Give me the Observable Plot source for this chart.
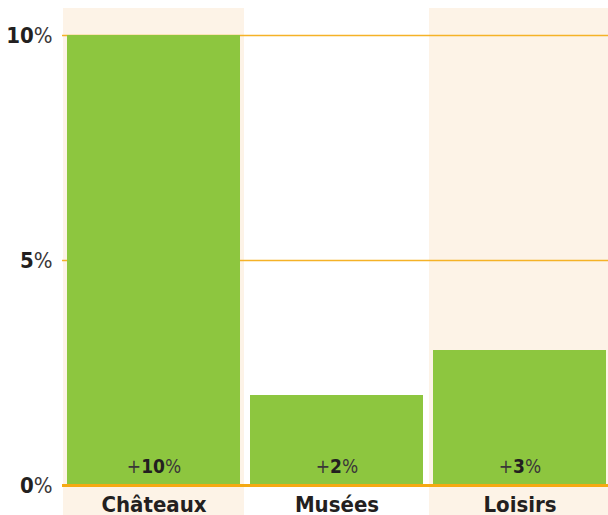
<!DOCTYPE html>
<html>
<head>
<meta charset="utf-8">
<script src="https://cdn.jsdelivr.net/npm/d3@7"></script>
<script src="https://cdn.jsdelivr.net/npm/@observablehq/plot@0.6"></script>
<style>
  body { margin: 0; background: #fff; }
  #chart svg { display: block; }
</style>
</head>
<body>
<div id="chart"></div>
<script>
const categories = ["Châteaux", "Musées", "Loisirs"];
const values = [10, 2, 3];
const highlighted = ["Châteaux", "Loisirs"];
const yTicks = [0, 5, 10];

const data = categories.map((c, i) => ({category: c, value: values[i]}));
const FONT = "'DejaVu Sans Condensed', 'DejaVu Sans', sans-serif";
const INK = "#231f20";

const svg = Plot.plot({
  width: 608,
  height: 515,
  marginLeft: 62,
  marginRight: 0,
  marginTop: 35,
  marginBottom: 30,
  style: {fontFamily: FONT, background: "#fff", overflow: "visible"},
  x: {type: "band", domain: categories, range: [61, 611], padding: 0, axis: null},
  y: {domain: [0, 10], range: [485, 35], axis: null},
  marks: [
    Plot.barY(highlighted, {x: d => d, y1: 0, y2: 10, fill: "#fdf3e7", insetLeft: 1, insetRight: 1, insetTop: -27, insetBottom: -30}),
    Plot.ruleY(yTicks.filter(t => t !== 0), {stroke: "#f5b227", strokeWidth: 1.5}),
    Plot.barY(data, {x: "category", y: "value", fill: "#8dc63f", insetLeft: 5, insetRight: 5}),
    Plot.ruleY([0], {stroke: "#f5a913", strokeWidth: 3}),
    Plot.text(data, {x: "category", y: 0, text: d => "+" + d.value + "%", dy: -19, fontSize: 19, fill: INK}),
    Plot.text(data, {x: "category", y: 0, text: "category", dy: 19, fontSize: 22, fontWeight: "bold", fill: INK}),
    Plot.axisY(yTicks, {tickSize: 0, tickPadding: 10, fontSize: 22, fontWeight: "normal", tickFormat: d => d + "%", label: null, color: INK})
  ]
});

function splitNumber(textEl) {
  const sel = d3.select(textEl);
  const s = sel.text();
  const m = s.match(/^(\+?)(\d+)(%)$/);
  if (!m) return;
  sel.text(null);
  if (m[1]) sel.append("tspan").attr("font-weight", "normal").attr("fill", "#3a3738").text(m[1]);
  sel.append("tspan").attr("font-weight", "bold").text(m[2]);
  sel.append("tspan").attr("font-weight", "normal").attr("fill", "#3a3738").text(m[3]);
}
d3.select(svg).selectAll("text").each(function() { splitNumber(this); });

document.getElementById("chart").appendChild(svg);
</script>
</body>
</html>
